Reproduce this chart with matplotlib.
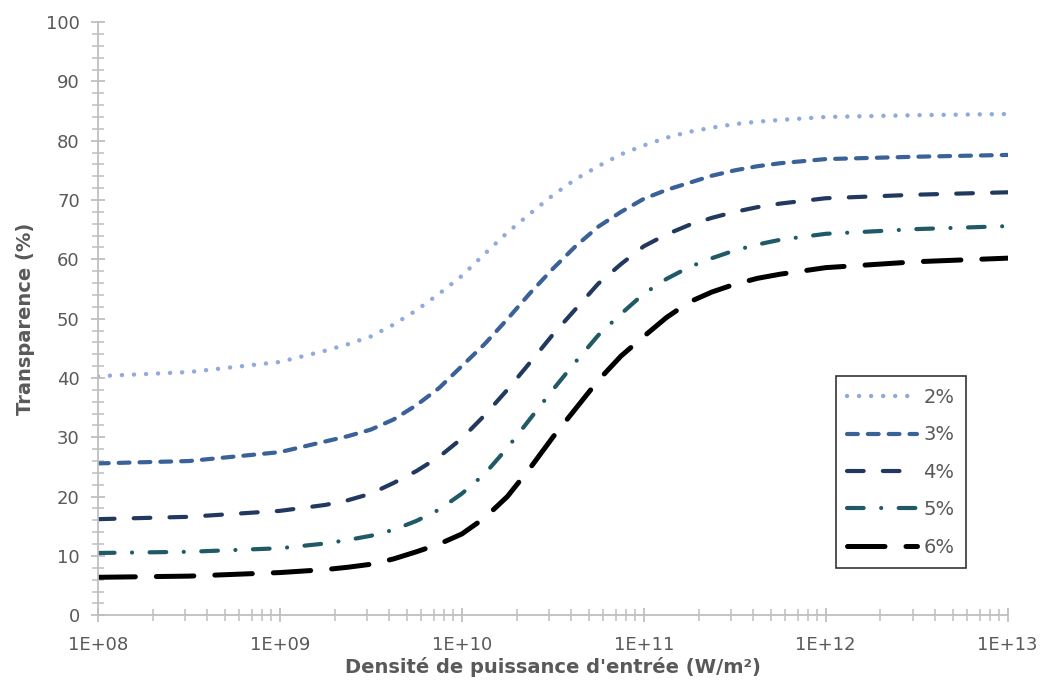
import matplotlib.pyplot as plt
from matplotlib.ticker import LogLocator, MultipleLocator, FixedLocator
import numpy as np

# log10 of input power density (W/m²)
log_x = [8, 8.5, 9, 9.25, 9.375, 9.5, 9.625, 9.75, 9.875, 10, 10.125, 10.25, 10.375,
         10.5, 10.625, 10.75, 10.875, 11, 11.125, 11.25, 11.375, 11.5, 11.625, 11.75,
         12, 12.5, 13]

t_2 = [40.3, 41.0, 42.7, 44.6, 45.7, 47.0, 49.0, 51.4, 54.2, 57.2, 60.9, 64.5, 67.7,
       70.8, 73.5, 75.7, 77.7, 79.2, 80.5, 81.5, 82.2, 82.8, 83.2, 83.5, 84.0, 84.3, 84.5]
t_3 = [25.6, 26.0, 27.5, 29.3, 30.2, 31.3, 33.0, 35.4, 38.3, 42.0, 45.7, 49.9, 54.3,
       58.4, 62.2, 65.5, 68.0, 70.2, 71.7, 72.9, 74.1, 75.0, 75.7, 76.2, 76.9, 77.3, 77.6]
t_4 = [16.2, 16.6, 17.6, 18.6, 19.4, 20.5, 22.3, 24.3, 26.7, 29.8, 33.7, 38.0, 42.6,
       47.3, 51.6, 55.9, 59.2, 62.2, 64.2, 65.8, 67.0, 68.0, 68.8, 69.4, 70.3, 70.9, 71.3]
t_5 = [10.5, 10.7, 11.3, 12.1, 12.7, 13.4, 14.4, 15.9, 17.8, 20.5, 23.8, 28.2, 33.1,
       38.0, 42.7, 47.2, 50.8, 54.2, 56.7, 58.7, 60.2, 61.5, 62.5, 63.3, 64.3, 65.1, 65.6]
t_6 = [6.4, 6.6, 7.2, 7.7, 8.1, 8.6, 9.5, 10.7, 12.0, 13.7, 16.4, 20.0, 24.8,
       30.0, 34.8, 39.6, 43.7, 47.0, 50.2, 52.8, 54.5, 55.8, 56.8, 57.5, 58.6, 59.6, 60.2]

labels = ["2%", "3%", "4%", "5%", "6%"]
series = [t_2, t_3, t_4, t_5, t_6]
colors = ["#8FAADC", "#3A6298", "#22395F", "#215A67", "#000000"]
dashes = [(0.01, 2.7), (2.6, 2.4), (4.0, 4.6), (4.0, 4.2, 0.01, 4.2), (7.5, 4.2)]
widths = [3.2, 3.0, 3.0, 3.0, 3.6]

grey = "#595959"
axis_col = "#BFBFBF"

fig = plt.figure(figsize=(10.41, 6.89), dpi=100)
ax = fig.add_axes([0.094, 0.107, 0.874, 0.861])

x = np.power(10.0, log_x)
for lab, y, c, d, w in zip(labels, series, colors, dashes, widths):
    line, = ax.plot(x, y, color=c, lw=w, label=lab, dash_capstyle="round",
                    solid_capstyle="round", solid_joinstyle="round")
    line.set_dashes(d)

ax.set_xscale("log")
ax.set_xlim(1e8, 1e13)
ax.set_ylim(0, 100)
ax.xaxis.set_major_locator(FixedLocator([1e8, 1e9, 1e10, 1e11, 1e12, 1e13]))
ax.xaxis.set_minor_locator(LogLocator(base=10, subs=np.arange(2, 10)))
ax.set_xticklabels(["1E+08", "1E+09", "1E+10", "1E+11", "1E+12", "1E+13"])
ax.yaxis.set_major_locator(MultipleLocator(10))
ax.yaxis.set_minor_locator(MultipleLocator(2))

for s in ["top", "right"]:
    ax.spines[s].set_visible(False)
for s in ["left", "bottom"]:
    ax.spines[s].set_color(axis_col)
    ax.spines[s].set_linewidth(1.3)

ax.tick_params(which="major", direction="inout", length=10, width=1.3,
               color=axis_col, labelcolor=grey, labelsize=13, pad=8)
ax.tick_params(which="minor", direction="inout", length=8, width=1.1, color=axis_col)
ax.tick_params(axis="x", which="major", pad=10)

ax.set_xlabel("Densité de puissance d'entrée (W/m²)", fontsize=14,
              fontweight="bold", color=grey, labelpad=2)
ax.set_ylabel("Transparence (%)", fontsize=14, fontweight="bold", color=grey,
              labelpad=8)

leg = ax.legend(loc="upper left", bbox_to_anchor=(0.811, 0.403), fontsize=14,
                frameon=True, fancybox=False, handlelength=3.6,
                labelspacing=0.95, borderpad=0.6, handletextpad=0.3,
                borderaxespad=0)
leg.get_frame().set_edgecolor("black")
leg.get_frame().set_linewidth(1.2)
for t in leg.get_texts():
    t.set_color(grey)

fig.savefig("out.png", dpi=100)
